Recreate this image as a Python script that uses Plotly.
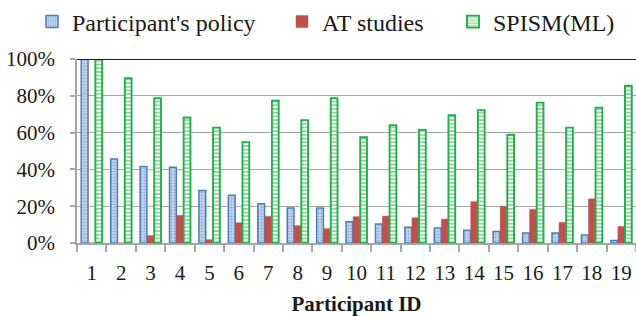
import plotly.graph_objects as go

participants = [str(i) for i in range(1, 20)]
policy = [100, 45.6, 41.6, 41.2, 28.6, 26.0, 21.3, 19.0, 19.0, 11.6, 10.3, 8.5, 8.1, 6.9, 6.3, 5.4, 5.4, 4.3, 1.4]
at_studies = [0, 0, 4.0, 15.0, 1.8, 11.0, 14.5, 9.4, 7.8, 14.3, 14.6, 13.7, 13.0, 22.4, 20.0, 18.3, 11.2, 24.0, 9.0]
spism = [100, 89.5, 78.7, 68.2, 62.7, 54.8, 77.4, 66.7, 78.7, 57.5, 64.0, 61.5, 69.4, 72.2, 58.8, 76.3, 62.7, 73.6, 85.5]
y_ticks = [0, 20, 40, 60, 80, 100]

W, H = 636, 316
FONT = "Liberation Serif, Tinos, DejaVu Serif, serif"
BLUE = "#4A7EBB"
RED = "#C0504D"
GREEN = "#22AF48"
GRID = "#A6A6A6"
TXT = "#1a1a1a"

fig = go.Figure()
fig.add_trace(go.Bar(
    x=participants, y=policy, name="Participant's policy", legend="legend",
    marker=dict(color="#B9CDE5", line=dict(color=BLUE, width=1.5),
                pattern=dict(shape=".", fgcolor="#5B88C0", bgcolor="#C5D6EC", size=3, solidity=0.4)),
))
fig.add_trace(go.Bar(
    x=participants, y=at_studies, name="AT studies", legend="legend2",
    marker=dict(color=RED, line=dict(color=RED, width=0.5)),
))
fig.add_trace(go.Bar(
    x=participants, y=spism, name="SPISM(ML)", legend="legend3",
    marker=dict(color="white", line=dict(color=GREEN, width=1.9),
                pattern=dict(shape="-", fgcolor=GREEN, bgcolor="white", size=3.7, solidity=0.5)),
))

def leg(xpix):
    return dict(orientation="h", xref="container", yref="container",
                x=xpix / W, y=1 - 22 / H, xanchor="left", yanchor="middle",
                font=dict(family=FONT, size=24, color=TXT),
                bgcolor="rgba(0,0,0,0)", borderwidth=0)

fig.update_layout(
    width=W, height=H,
    margin=dict(l=77, r=0, t=59, b=73, autoexpand=False),
    paper_bgcolor="white", plot_bgcolor="white",
    font=dict(family=FONT, size=21, color=TXT),
    barmode="group", bargap=0.28, bargroupgap=0.04,
    legend=leg(32), legend2=leg(282), legend3=leg(453),
    showlegend=True,
)
fig.update_xaxes(
    type="category", showgrid=False, tickangle=0,
    showline=True, linecolor=GRID, linewidth=1.5,
    ticks="outside", tickson="boundaries", ticklen=7, tickcolor=GRID, tickwidth=1.5,
    ticklabelstandoff=10,
    tickfont=dict(family=FONT, size=21, color=TXT),
    title=dict(text="<b>Participant ID</b>", font=dict(family=FONT, size=21, color=TXT), standoff=17),
)
fig.update_yaxes(
    range=[0, 100], tickvals=y_ticks, ticktext=[f"{v}%" for v in y_ticks],
    showgrid=True, gridcolor=GRID, gridwidth=1.3,
    showline=True, linecolor=GRID, linewidth=1.5,
    ticks="outside", ticklen=5, tickcolor=GRID, tickwidth=1.5,
    ticklabelstandoff=11,
    tickfont=dict(family=FONT, size=21, color=TXT),
    zeroline=False,
)
fig.add_shape(type="line", xref="paper", yref="y", x0=0, x1=1, y0=100, y1=100,
              line=dict(color=TXT, width=2))

fig.write_html("out.html", config={"displayModeBar": False},
               post_script="document.body.style.margin='0';document.body.style.overflow='hidden';")
